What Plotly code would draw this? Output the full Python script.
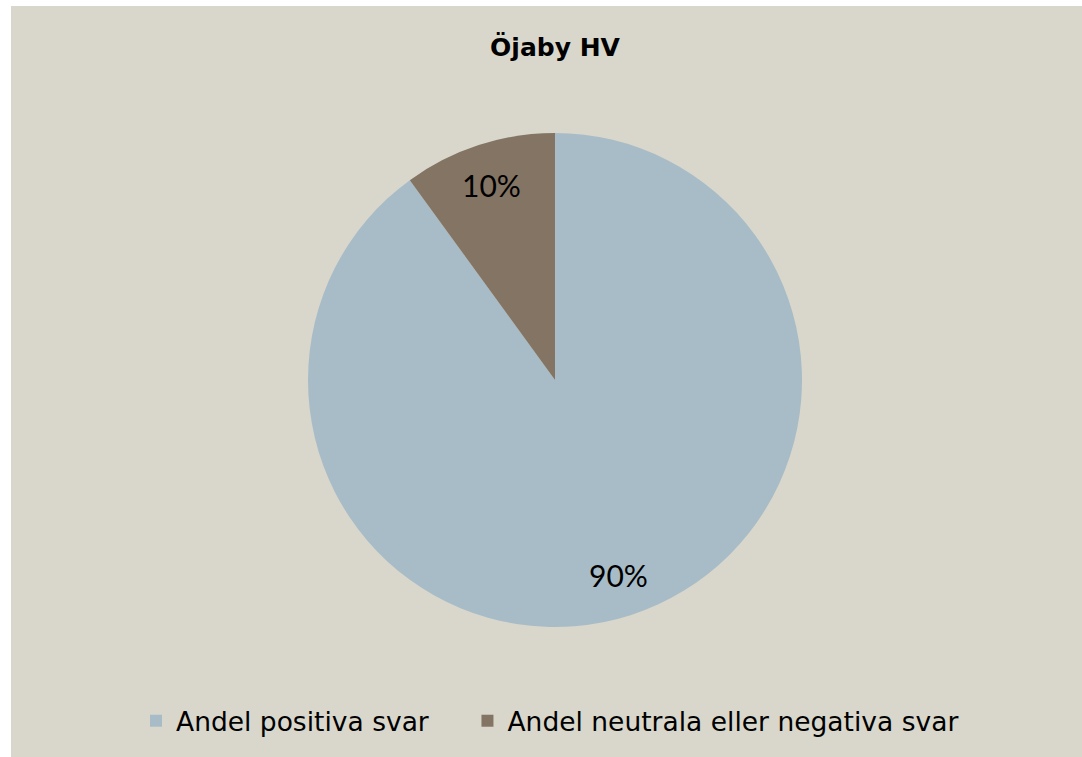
import math
import plotly.graph_objects as go

title_text = "Öjaby HV"
categories = ["Andel positiva svar", "Andel neutrala eller negativa svar"]
values = [90, 10]
colors = ["#A8BCC7", "#847464"]

W, H = 1082, 757
L, R, T, B = 11, 0, 6, 0
gw = W - L - R
gh = H - T - B

def fx(px):
    return (px - L) / gw

def fy(py):
    return (H - B - py) / gh

# pie box (pixels) -> domain
PIE_L, PIE_R, PIE_T, PIE_B = 308, 802, 133, 627
cx, cy = fx((PIE_L + PIE_R) / 2), fy((PIE_T + PIE_B) / 2)
rx, ry = (PIE_R - PIE_L) / 2 / gw, (PIE_B - PIE_T) / 2 / gh

BG = "#D9D7CB"
LEG_FONT = "'DejaVu Sans', sans-serif"
LAB_FONT = "Lato, sans-serif"

# legend entries: pad all but the last with non-breaking spaces to widen the gap
legend_labels = [c + ("\u00a0" * 4 if i < len(categories) - 1 else "")
                 for i, c in enumerate(categories)]

fig = go.Figure()
fig.add_trace(go.Pie(
    labels=legend_labels,
    values=values,
    sort=False,
    direction="clockwise",
    rotation=0,
    marker=dict(colors=colors, line=dict(width=0)),
    textinfo="none",
    customdata=categories,
    hovertemplate="%{customdata}: %{percent}<extra></extra>",
    domain=dict(x=[fx(PIE_L), fx(PIE_R)], y=[fy(PIE_B), fy(PIE_T)]),
))

# data labels placed at slice mid-angles, derived from the values
total = sum(values)
annotations = []
cum = 0
for v in values:
    mid = (cum + v / 2) / total * 2 * math.pi
    cum += v
    rf = 0.83
    annotations.append(dict(
        x=cx + rf * rx * math.sin(mid), y=cy + rf * ry * math.cos(mid),
        xref="paper", yref="paper", showarrow=False,
        text=f"{round(v / total * 100)}%",
        font=dict(family=LAB_FONT, size=30, color="#000000"),
        xanchor="center", yanchor="middle",
    ))

fig.update_layout(
    width=W, height=H,
    margin=dict(l=L, r=R, t=T, b=B, autoexpand=False),
    paper_bgcolor=BG,
    plot_bgcolor=BG,
    title=dict(
        text=f"<b>{title_text}</b>",
        x=555 / W, xanchor="center",
        y=1 - 47 / H, yanchor="middle", yref="container",
        font=dict(family=LEG_FONT, size=25, color="#000000"),
    ),
    showlegend=True,
    legend=dict(
        orientation="h",
        x=fx(136), xanchor="left",
        y=fy(721), yanchor="middle",
        font=dict(family=LEG_FONT, size=26.5, color="#000000"),
        bgcolor="rgba(0,0,0,0)",
        itemclick=False,
    ),
    annotations=annotations,
    shapes=[
        dict(type="rect", xref="paper", yref="paper", layer="below",
             x0=fx(-2), x1=fx(11), y0=fy(760), y1=fy(-2),
             fillcolor="#FFFFFF", line=dict(width=0)),
        dict(type="rect", xref="paper", yref="paper", layer="below",
             x0=fx(-2), x1=fx(W + 2), y0=fy(6), y1=fy(-2),
             fillcolor="#FFFFFF", line=dict(width=0)),
    ],
)

fig.write_html(
    "out.html",
    config={"displayModeBar": False},
    post_script="document.body.style.margin='0';document.body.style.overflow='hidden';",
)
